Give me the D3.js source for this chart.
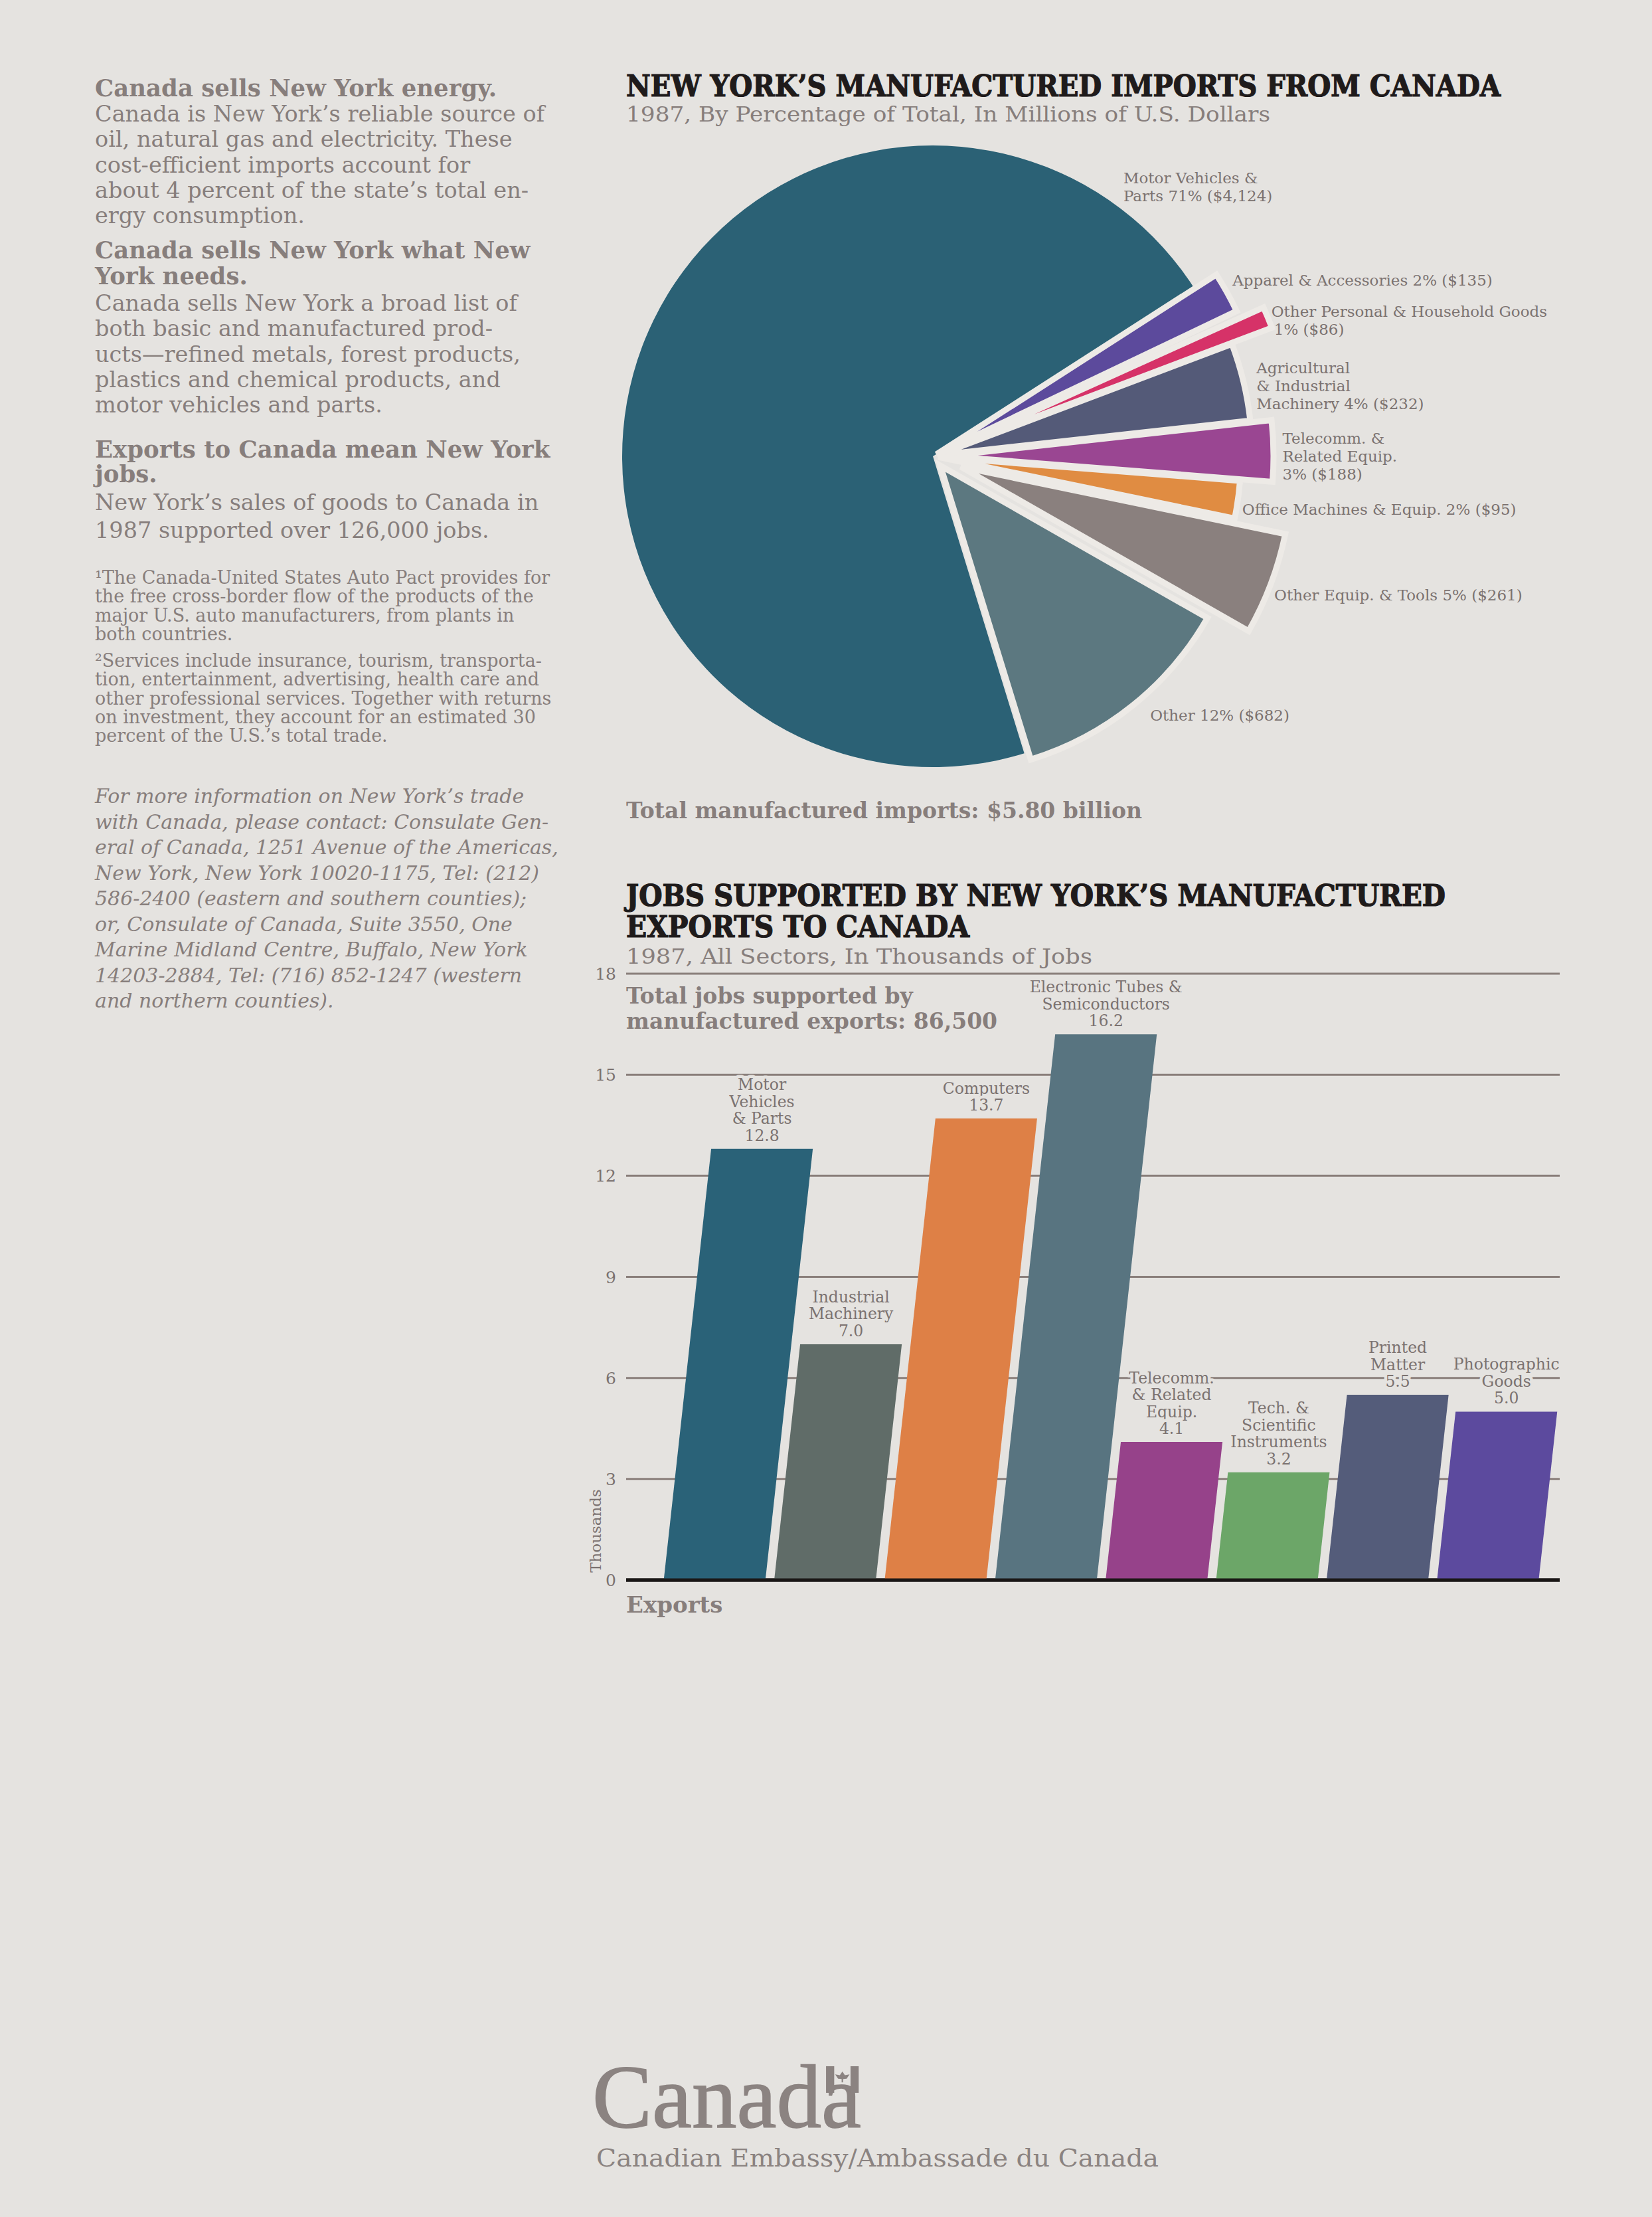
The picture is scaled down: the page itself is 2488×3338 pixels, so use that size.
<!DOCTYPE html>
<html><head><meta charset="utf-8">
<script src="https://cdn.jsdelivr.net/npm/d3@7/dist/d3.min.js"></script>
<style>
html,body{margin:0;padding:0;background:#e5e3e0;}
svg{display:block;}
</style></head><body>
<svg id="c" width="2488" height="3338"></svg>
<script>
// ---------------- DATA ----------------
const pieNames = [["Motor Vehicles &","Parts"],["Apparel & Accessories"],["Other Personal & Household Goods",""],["Agricultural","& Industrial","Machinery"],["Telecomm. &","Related Equip.",""],["Office Machines & Equip."],["Other Equip. & Tools"],["Other"]];
const pieValues = [4124,135,86,232,188,95,261,682];      // millions of U.S. dollars
const piePercents = [71,2,1,4,3,2,5,12];                  // share of total (slice sizes)
const pieTotal = "$5.80 billion";

const barNames = [["Motor","Vehicles","& Parts"],["Industrial","Machinery"],["Computers"],["Electronic Tubes &","Semiconductors"],["Telecomm.","& Related","Equip."],["Tech. &","Scientific","Instruments"],["Printed","Matter"],["Photographic","Goods"]];
const barValues = [12.8,7.0,13.7,16.2,4.1,3.2,5.5,5.0];  // thousands of jobs
const yTicks = [0,3,6,9,12,15,18];
const jobsTotal = "86,500";

// ---------------- STYLE ----------------
const BG = "#e5e3e0";
const pieColors = ["#2b6175","#5c4a9c","#d63268","#545a78","#9a4692","#e08c42","#8a807e","#5c7880"];
const barColors = ["#2a6278","#606c68","#de8046","#587480","#96428a","#6ca668","#545c7a","#5c4a9e"];
const sliceOffset = [0,6,20,8,20,8,45,18];
const sliceRadius = [468,501,526,473,493,456,499,463];
const sliceRot = [0,-1.2,0,0,0,0,0,0];   // small per-slice rotation tweak (deg)
const labelNudge = [[-28,-43],[-1,-10],[0,22],[11,22],[2,22],[-7,25],[-11,26],[9,13]];
const GRAY = "#877e7c", LABEL = "#7b7270", INK = "#1f1b1b";
const SERIF = "'DejaVu Serif', serif";
const COND = "'DejaVu Serif Condensed', 'DejaVu Serif', serif";

const svg = d3.select("#c");
svg.append("rect").attr("width",2488).attr("height",3338).attr("fill",BG);

// ---------------- LEFT COLUMN ----------------
const leftBlocks = [
 {k:"h", y:145, lh:38, lines:["Canada sells New York energy."]},
 {k:"p", y:183, lh:38.3, lines:["Canada is New York’s reliable source of","oil, natural gas and electricity. These","cost-efficient imports account for","about 4 percent of the state’s total en-","ergy consumption."]},
 {k:"h", y:389, lh:38.5, lines:["Canada sells New York what New","York needs."]},
 {k:"p", y:468, lh:38.3, lines:["Canada sells New York a broad list of","both basic and manufactured prod-","ucts—refined metals, forest products,","plastics and chemical products, and","motor vehicles and parts."]},
 {k:"h", y:689, lh:37, lines:["Exports to Canada mean New York","jobs."]},
 {k:"p", y:768, lh:42, lines:["New York’s sales of goods to Canada in","1987 supported over 126,000 jobs."]},
 {k:"f", y:879, lh:28.4, lines:["¹The Canada-United States Auto Pact provides for","the free cross-border flow of the products of the","major U.S. auto manufacturers, from plants in","both countries."]},
 {k:"f", y:1004, lh:28.3, lines:["²Services include insurance, tourism, transporta-","tion, entertainment, advertising, health care and","other professional services. Together with returns","on investment, they account for an estimated 30","percent of the U.S.’s total trade."]},
 {k:"i", y:1209, lh:38.5, lines:["For more information on New York’s trade","with Canada, please contact: Consulate Gen-","eral of Canada, 1251 Avenue of the Americas,","New York, New York 10020-1175, Tel: (212)","586-2400 (eastern and southern counties);","or, Consulate of Canada, Suite 3550, One","Marine Midland Centre, Buffalo, New York","14203-2884, Tel: (716) 852-1247 (western","and northern counties)."]}
];
const blockStyle = {h:{size:35.5,weight:"bold",style:"normal"}, p:{size:33.5,weight:"normal",style:"normal"}, f:{size:27,weight:"normal",style:"normal"}, i:{size:30,weight:"normal",style:"italic"}};
leftBlocks.forEach(b=>{
  const st = blockStyle[b.k];
  b.lines.forEach((ln,j)=>{
    svg.append("text").attr("x",143).attr("y",b.y+j*b.lh)
      .attr("font-family",SERIF).attr("font-size",st.size).attr("font-weight",st.weight)
      .attr("font-style",st.style).attr("fill",GRAY).text(ln);
  });
});

// ---------------- PIE CHART ----------------
svg.append("text").attr("x",943).attr("y",145).attr("font-family",COND).attr("font-stretch","condensed")
  .attr("font-weight","bold").attr("font-size",45).attr("fill",INK).attr("stroke",INK).attr("stroke-width",1.2)
  .attr("textLength",1317).attr("lengthAdjust","spacingAndGlyphs")
  .text("NEW YORK’S MANUFACTURED IMPORTS FROM CANADA");
svg.append("text").attr("x",943).attr("y",183).attr("font-family",SERIF).attr("font-size",31)
  .attr("fill",GRAY).attr("textLength",970).attr("lengthAdjust","spacingAndGlyphs")
  .text("1987, By Percentage of Total, In Millions of U.S. Dollars");

const cx = 1405, cy = 687;
const total = d3.sum(piePercents);
const motorA = 2*Math.PI*piePercents[0]/total;
const labelAnchorA = 57*Math.PI/180;
const anchorA = 58.5*Math.PI/180;
const pie = d3.pie().sort(null).value(d=>d).startAngle(anchorA-motorA).endAngle(anchorA-motorA+2*Math.PI);
const arcsData = pie(piePercents);
const gPie = svg.append("g").attr("transform",`translate(${cx},${cy})`);
arcsData.forEach((a,i)=>{
  const rot = sliceRot[i]*Math.PI/180;
  const aa = Object.assign({}, a, {startAngle:a.startAngle+rot, endAngle:a.endAngle+rot});
  const mid = (aa.startAngle+aa.endAngle)/2;
  const off = sliceOffset[i];
  const arc = d3.arc().innerRadius(0).outerRadius(sliceRadius[i]);
  gPie.append("path").attr("d",arc(aa))
    .attr("transform",`translate(${Math.sin(mid)*off},${-Math.cos(mid)*off})`)
    .attr("fill",pieColors[i]).attr("stroke","#edeae6").attr("stroke-width",i===0?0:9)
    .attr("stroke-linejoin","miter");
});
const fmtMoney = d3.format(",");
arcsData.forEach((a,i)=>{
  const shift = anchorA - labelAnchorA;
  const ang = (i===0 ? a.endAngle - 16*Math.PI/180 : (a.startAngle+a.endAngle)/2) - shift;
  const dist = sliceOffset[i]+sliceRadius[i]+12;
  const x = cx + dist*Math.sin(ang) + labelNudge[i][0];
  const y = cy - dist*Math.cos(ang) + labelNudge[i][1];
  const lines = pieNames[i].slice();
  const tail = `${piePercents[i]}% ($${fmtMoney(pieValues[i])})`;
  lines[lines.length-1] = (lines[lines.length-1] ? lines[lines.length-1]+" " : "") + tail;
  const lh = 27;
  const y0 = y - (lines.length-1)*lh/2 + 8;
  lines.forEach((ln,j)=>{
    svg.append("text").attr("x",x + (i===2 && j===1 ? 4 : 0)).attr("y",y0+j*lh)
      .attr("font-family",SERIF).attr("font-size",23).attr("fill",LABEL).text(ln);
  });
});
svg.append("text").attr("x",943).attr("y",1232).attr("font-family",SERIF).attr("font-weight","bold")
  .attr("font-size",33).attr("fill",GRAY).text("Total manufactured imports: "+pieTotal);

// ---------------- BAR CHART ----------------
const t1 = svg.append("g").attr("font-family",COND).attr("font-stretch","condensed").attr("font-weight","bold")
  .attr("font-size",45).attr("fill",INK).attr("stroke",INK).attr("stroke-width",1.2);
t1.append("text").attr("x",943).attr("y",1364).attr("textLength",1234).attr("lengthAdjust","spacingAndGlyphs").text("JOBS SUPPORTED BY NEW YORK’S MANUFACTURED");
t1.append("text").attr("x",943).attr("y",1411).attr("textLength",517).attr("lengthAdjust","spacingAndGlyphs").text("EXPORTS TO CANADA");
svg.append("text").attr("x",943).attr("y",1451).attr("font-family",SERIF).attr("font-size",31)
  .attr("fill",GRAY).attr("textLength",702).attr("lengthAdjust","spacingAndGlyphs")
  .text("1987, All Sectors, In Thousands of Jobs");

const y = d3.scaleLinear().domain([0,18]).range([2379,1466]);
const x = d3.scaleBand().domain(d3.range(barValues.length)).range([993,2324]).paddingInner(0.08).paddingOuter(0.04);
const gridX0 = 943, gridX1 = 2349;

const gGrid = svg.append("g");
yTicks.forEach(t=>{
  gGrid.append("line").attr("x1",gridX0).attr("x2",gridX1).attr("y1",y(t)).attr("y2",y(t))
    .attr("stroke",t===0?"#1a1716":"#8a7f7b").attr("stroke-width",t===0?5:3);
  gGrid.append("text").attr("x",928).attr("y",y(t)).attr("dy","0.36em").attr("text-anchor","end")
    .attr("font-family",SERIF).attr("font-size",25).attr("fill",LABEL).text(t);
});

svg.append("text").attr("x",943).attr("y",1511).attr("font-family",SERIF).attr("font-weight","bold")
  .attr("font-size",33).attr("fill",GRAY).text("Total jobs supported by");
svg.append("text").attr("x",943).attr("y",1549).attr("font-family",SERIF).attr("font-weight","bold")
  .attr("font-size",33).attr("fill",GRAY).text("manufactured exports: "+jobsTotal);

const skew = 0.11;
const bw = x.bandwidth();
const gBars = svg.append("g");
barValues.forEach((v,i)=>{
  const x0 = x(i), yb = y(0), yt = y(v);
  const s = skew*(yb-yt);
  const path = d3.path();
  path.moveTo(x0,yb); path.lineTo(x0+bw,yb); path.lineTo(x0+bw+s,yt); path.lineTo(x0+s,yt); path.closePath();
  gBars.append("path").attr("d",path.toString()).attr("fill",barColors[i]);
});
svg.append("line").attr("x1",gridX0).attr("x2",gridX1).attr("y1",y(0)).attr("y2",y(0))
  .attr("stroke","#1a1716").attr("stroke-width",5);

const fmtVal = d3.format(".1f");
barValues.forEach((v,i)=>{
  const yt = y(v);
  const s = skew*(y(0)-yt);
  const xc = x(i)+bw/2+s;
  const lines = barNames[i].concat([fmtVal(v)]);
  const lh = 25.5;
  lines.forEach((ln,j)=>{
    svg.append("text").attr("x",xc).attr("y",yt-12-(lines.length-1-j)*lh).attr("text-anchor","middle")
      .attr("font-family",SERIF).attr("font-size",23.5).attr("fill",LABEL)
      .attr("stroke",BG).attr("stroke-width",9).attr("paint-order","stroke").attr("stroke-linejoin","round")
      .text(ln);
  });
});

svg.append("text").attr("transform","translate(905,2305) rotate(-90)").attr("text-anchor","middle")
  .attr("font-family",SERIF).attr("font-size",23).attr("fill",LABEL).text("Thousands");
svg.append("text").attr("x",943).attr("y",2428).attr("font-family",SERIF).attr("font-weight","bold")
  .attr("font-size",34).attr("fill",GRAY).text("Exports");

// ---------------- FOOTER ----------------
const logo = svg.append("text").attr("x",892).attr("y",3203).attr("font-family","'Liberation Serif', serif")
  .attr("font-size",135).attr("fill","#8b8381").attr("stroke","#8b8381").attr("stroke-width",1.5).text("Canada");
const ext = logo.node().getExtentOfChar(5);
const fx = ext.x + ext.width*0.12, fw = ext.width*0.82, ftop = 3111, fh = 40;
const gFlag = svg.append("g").attr("fill","#8b8381");
gFlag.append("rect").attr("x",fx).attr("y",ftop).attr("width",fw*0.25).attr("height",fh);
gFlag.append("rect").attr("x",fx+fw*0.75).attr("y",ftop).attr("width",fw*0.25).attr("height",fh);
const lc = fx+fw/2, lt = ftop+8, ls = fw*0.22;
gFlag.append("path").attr("d",`M${lc},${lt} L${lc+ls*0.35},${lt+ls*0.5} L${lc+ls},${lt+ls*0.4} L${lc+ls*0.6},${lt+ls} L${lc+ls*0.1},${lt+ls*1.05} L${lc+ls*0.1},${lt+ls*1.5} L${lc-ls*0.1},${lt+ls*1.5} L${lc-ls*0.1},${lt+ls*1.05} L${lc-ls*0.6},${lt+ls} L${lc-ls},${lt+ls*0.4} L${lc-ls*0.35},${lt+ls*0.5} Z`);
svg.append("text").attr("x",898).attr("y",3262).attr("font-family",SERIF).attr("font-size",37)
  .attr("fill","#8b8381").attr("textLength",847).attr("lengthAdjust","spacingAndGlyphs")
  .text("Canadian Embassy/Ambassade du Canada");
</script>
</body></html>
